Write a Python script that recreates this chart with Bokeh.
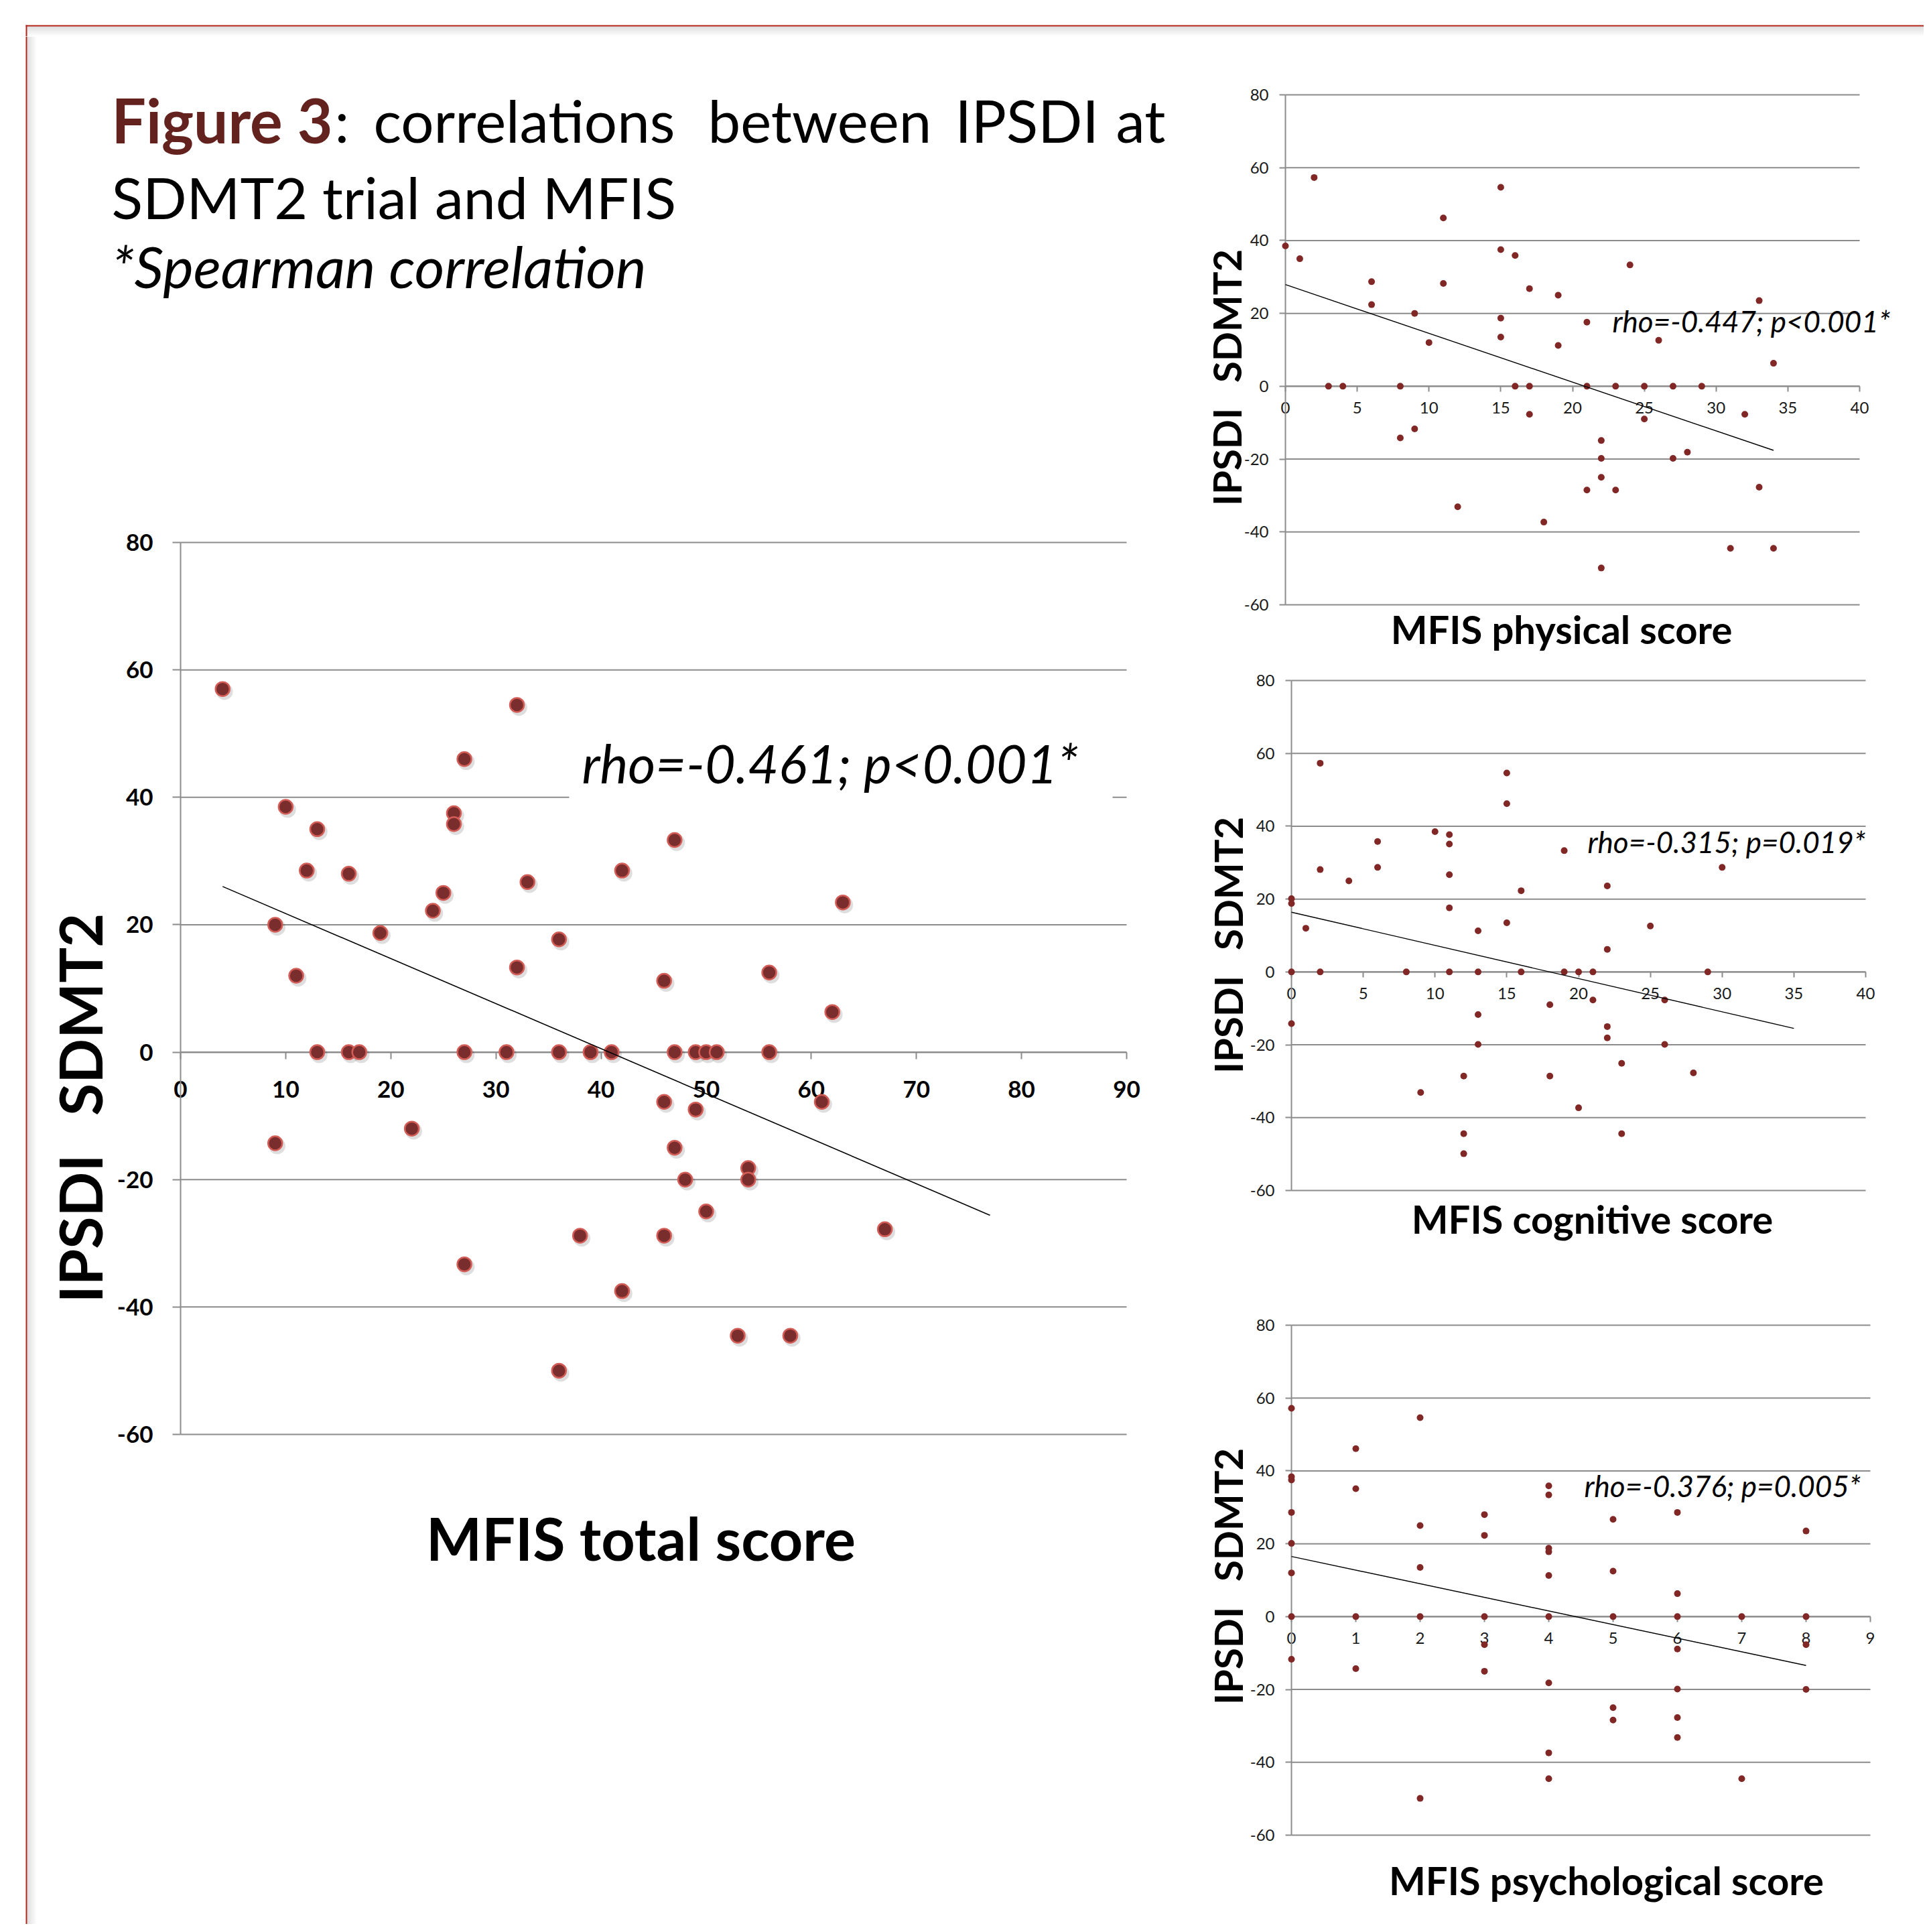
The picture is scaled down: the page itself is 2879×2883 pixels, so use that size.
import math
from bokeh.plotting import figure
from bokeh.models import Range1d, FixedTicker, Label, Spacer, LinearAxis
from bokeh.layouts import row, column
from bokeh.embed import file_html
from bokeh.resources import INLINE
from bokeh.core.properties import value
from bokeh.transform import dodge

# ---------------- data ----------------
y_ticks = [-60, -40, -20, 0, 20, 40, 60, 80]

# MFIS total score vs IPSDI SDMT2
total_x = [4, 32, 27, 10, 13, 26, 26, 47, 12, 16, 42, 33, 25, 24, 63, 9, 19, 36, 11, 32, 46, 56, 62,
           13, 16, 17, 27, 31, 36, 39, 41, 47, 49, 50, 51, 56,
           9, 22, 46, 49, 61, 47, 54, 54, 48, 50, 38, 46, 67, 27, 42, 53, 58, 36]
total_y = [57, 54.5, 46, 38.5, 35, 37.5, 35.8, 33.3, 28.5, 28, 28.5, 26.7, 25, 22.2, 23.5, 20, 18.7, 17.7, 12, 13.3, 11.2, 12.5, 6.3,
           0, 0, 0, 0, 0, 0, 0, 0, 0, 0, 0, 0, 0,
           -14.3, -12, -7.8, -9, -7.8, -15, -18.2, -20, -20, -25, -28.8, -28.8, -27.8, -33.3, -37.5, -44.5, -44.5, -50]
total_trend_x = [4, 77]
total_trend_y = [26.0, -25.6]
total_x_ticks = [0, 10, 20, 30, 40, 50, 60, 70, 80, 90]

# MFIS physical score
phys_x = [0, 1, 2, 3, 4, 6, 6, 8, 8, 9, 9, 10, 11, 11, 12, 15, 15, 15, 15, 16, 16, 17, 17, 17, 18,
          19, 19, 21, 21, 21, 22, 22, 22, 22, 23, 23, 24, 25, 25, 26, 27, 27, 28, 29, 31, 32, 33, 33, 34, 34]
phys_y = [38.5, 35, 57.3, 0, 0, 28.7, 22.4, 0, -14.2, 20, -11.7, 12, 46.2, 28.2, -33.1, 54.6, 37.5, 18.7, 13.5, 35.9, 0, 26.8, 0, -7.7, -37.3,
          25, 11.2, 17.6, 0, -28.5, -14.9, -19.8, -25, -49.9, 0, -28.5, 33.3, 0, -9, 12.6, 0, -19.8, -18.1, 0, -44.5, -7.7, 23.5, -27.7, 6.3, -44.5]
phys_trend_x = [0, 34]
phys_trend_y = [27.9, -17.6]
phys_x_ticks = [0, 5, 10, 15, 20, 25, 30, 35, 40]

# MFIS cognitive score
cog_x = [0, 0, 0, 0, 1, 2, 2, 2, 4, 6, 6, 8, 9, 10, 11, 11, 11, 11, 11, 12, 12, 12, 13, 13, 13, 13,
         15, 15, 15, 16, 16, 18, 18, 19, 19, 20, 20, 21, 21, 22, 22, 22, 22, 23, 23, 25, 26, 26, 28, 29, 30]
cog_y = [20.1, 18.8, 0, -14.2, 12, 57.3, 28.1, 0, 25, 35.8, 28.7, 0, -33.1, 38.5, 37.7, 35.1, 26.7, 17.6, 0, -28.6, -44.4, -49.9, 11.3, 0, -11.7, -19.9,
         54.6, 46.2, 13.5, 22.3, 0, -9, -28.6, 33.3, 0, 0, -37.3, 0, -7.7, 23.6, 6.2, -15, -18.1, -25.1, -44.4, 12.6, -7.7, -19.9, -27.7, 0, 28.7]
cog_trend_x = [0, 35]
cog_trend_y = [16.4, -15.5]
cog_x_ticks = [0, 5, 10, 15, 20, 25, 30, 35, 40]

# MFIS psychological score
psy_x = [0, 0, 0, 0, 0, 0, 0, 0, 1, 1, 1, 1, 2, 2, 2, 2, 2, 3, 3, 3, 3, 3,
         4, 4, 4, 4, 4, 4, 4, 4, 4, 5, 5, 5, 5, 5, 6, 6, 6, 6, 6, 6, 6, 7, 7, 8, 8, 8, 8]
psy_y = [57.2, 38.4, 37.5, 28.6, 20.1, 12, 0, -11.7, 46.1, 35.1, 0, -14.3, 54.6, 25, 13.5, 0, -49.9, 28, 22.3, 0, -7.7, -15,
         35.9, 33.4, 18.8, 17.8, 11.3, 0, -18.2, -37.4, -44.5, 26.7, 12.5, 0, -25, -28.4, 28.6, 6.3, 0, -8.9, -19.9, -27.7, -33.2, 0, -44.5, 23.5, 0, -7.7, -20]
psy_trend_x = [0, 8]
psy_trend_y = [16.5, -13.4]
psy_x_ticks = [0, 1, 2, 3, 4, 5, 6, 7, 8, 9]

Y_TITLE = "IPSDI\u00a0\u00a0\u2006SDMT2"

# ---------------- style ----------------
FONT = "Lato"
GRID = "#8c8c8c"
RED_LINE = "#B0241C"
TITLE_RED = "#64221F"
DOT_MAIN = "#7A2D2D"
DOT_RING = "#D45C56"
DOT_SMALL = "#812826"
BASE_SHIFT = 0.39  # move anchor up so that the alphabetic baseline lands where wanted


def bl(py, size):
    return py - BASE_SHIFT * size


class Mapper:
    """Pixel layout of one chart: figure box and where the axis ends land (window px)."""

    def __init__(self, box, x_ticks, x_px, y_px):
        self.box = box  # left, top, right, bottom
        x0, x1 = x_ticks[0], x_ticks[-1]
        y0, y1 = y_ticks[0], y_ticks[-1]
        self.sx = (x_px[1] - x_px[0]) / (x1 - x0)
        self.sy = (y_px[1] - y_px[0]) / (y1 - y0)  # negative
        self.x0, self.px0 = x0, x_px[0]
        self.y0, self.py0 = y0, y_px[0]

    def dx(self, px):
        return self.x0 + (px - self.px0) / self.sx

    def dy(self, py):
        return self.y0 + (py - self.py0) / self.sy


def chart(m, xs, ys, tx, ty, x_ticks, tick_px, tick_bold, ytick_out, xtick_out, ystand, xstand, main=False):
    l, t, r, b = m.box
    p = figure(width=r - l, height=b - t, x_range=Range1d(m.dx(l), m.dx(r)),
               y_range=Range1d(m.dy(b), m.dy(t)), output_backend="svg", toolbar_location=None,
               min_border=0, x_axis_location=None, y_axis_location=None)
    p.outline_line_color = None
    p.background_fill_color = "white"
    p.border_fill_color = "white"
    p.grid.visible = False
    # horizontal gridlines between x = first and last tick
    p.segment(x0=x_ticks[0], x1=x_ticks[-1], y0=y_ticks, y1=y_ticks, line_color=GRID, line_width=2)
    xa = LinearAxis(fixed_location=0, bounds=(x_ticks[0], x_ticks[-1]), ticker=FixedTicker(ticks=x_ticks),
                    major_label_overrides={v: str(v) for v in x_ticks})
    ya = LinearAxis(fixed_location=0, bounds=(y_ticks[0], y_ticks[-1]), ticker=FixedTicker(ticks=y_ticks),
                    major_label_overrides={v: str(v) for v in y_ticks})
    for ax, out, st in ((xa, xtick_out, xstand), (ya, ytick_out, ystand)):
        ax.level = "underlay"
        ax.axis_line_color = GRID
        ax.axis_line_width = 2
        ax.major_tick_line_color = GRID
        ax.major_tick_line_width = 2
        ax.minor_tick_line_color = None
        ax.major_tick_in = 0
        ax.major_tick_out = out
        ax.major_label_standoff = st
        ax.major_label_text_font = FONT
        ax.major_label_text_font_size = f"{tick_px}px"
        ax.major_label_text_font_style = "bold" if tick_bold else "normal"
        ax.major_label_text_color = "black" if tick_bold else "#1a1a1a"
    p.add_layout(xa, "below")
    p.add_layout(ya, "left")
    if main:
        p.scatter(x=dodge("x", 0.18), y=dodge("y", -0.4), source=dict(x=xs, y=ys), size=25,
                  fill_color="black", fill_alpha=0.13, line_color=None)
        p.scatter("x", "y", source=dict(x=xs, y=ys), size=21, fill_color=DOT_MAIN,
                  line_color=DOT_RING, line_width=2.5)
        p.line(tx, ty, line_color="black", line_width=1.6)
    else:
        p.scatter(xs, ys, size=10, fill_color=DOT_SMALL, line_color=None)
        p.line(tx, ty, line_color="black", line_width=1.4)
    return p


def add_texts(p, m, rho, rho_pos, rho_px, xt, xt_pos, yt_pos, title_px):
    p.add_layout(Label(x=m.dx(rho_pos[0]), y=m.dy(bl(rho_pos[1], rho_px)), text=rho, text_font=FONT,
                       text_font_style="italic", text_font_size=f"{rho_px}px", text_align="left",
                       text_baseline="alphabetic", text_color="black"))
    p.add_layout(Label(x=m.dx(xt_pos[0]), y=m.dy(bl(xt_pos[1], title_px)), text=xt, text_font=FONT,
                       text_font_style="bold", text_font_size=f"{title_px}px", text_align="center",
                       text_baseline="alphabetic", text_color="black"))
    p.add_layout(Label(x=m.dx(yt_pos[0]), y=m.dy(yt_pos[1]), text=Y_TITLE, text_font=FONT,
                       text_font_style="bold", text_font_size=f"{title_px}px", text_align="center",
                       text_baseline="middle", angle=math.pi / 2, text_color="black"))


def blank(w, h, xr, yr):
    p = figure(width=w, height=h, x_range=Range1d(*xr), y_range=Range1d(*yr), output_backend="svg",
               toolbar_location=None, min_border=0, x_axis_location=None, y_axis_location=None)
    p.grid.visible = False
    p.outline_line_color = None
    p.background_fill_color = "white"
    p.border_fill_color = "white"
    return p


# ---------------- frame bands ----------------
TB_W, TB_H = 2834, 18
top_band = blank(TB_W, TB_H, (0, TB_W), (TB_H, 0))
for i in range(7):
    top_band.quad(left=3, right=TB_W, top=3 + 2 * i, bottom=5 + 2 * i, fill_color="black",
                  fill_alpha=0.12 * (1 - i / 7), line_color=None)
top_band.quad(left=1, right=TB_W, top=1, bottom=3, fill_color=RED_LINE, line_color=None)
top_band.quad(left=1, right=3, top=1, bottom=TB_H, fill_color=RED_LINE, line_color=None)

LB_W, LB_H = 18, 2817
left_band = blank(LB_W, LB_H, (0, LB_W), (LB_H, 0))
for i in range(7):
    left_band.quad(left=3 + 2 * i, right=5 + 2 * i, top=0, bottom=LB_H, fill_color="black",
                   fill_alpha=0.12 * (1 - i / 7), line_color=None)
left_band.quad(left=1, right=3, top=0, bottom=LB_H, fill_color=RED_LINE, line_color=None)

# ---------------- title ----------------
title = blank(1703, 646, (55, 1758), (700, 54))
title.text(x=[166], y=[bl(213, 91)], text=["Figure 3"], text_font=value(FONT), text_font_style="bold",
           text_font_size="91px", text_color=TITLE_RED, text_baseline="alphabetic", text_align="left")
title.text(x=[499, 557, 1056, 1425, 1665], y=[bl(213, 87)] * 5,
           text=[":", "correlations", "between", "IPSDI", "at"], text_font=value(FONT),
           text_font_size="87px", text_color="black", text_baseline="alphabetic", text_align="left")
title.text(x=[166], y=[bl(327, 86)], text=["SDMT2 trial and MFIS"], text_font=value(FONT),
           text_font_size="86px", text_color="black", text_baseline="alphabetic", text_align="left")
title.text(x=[166], y=[bl(430, 86)], text=["*Spearman correlation"], text_font=value(FONT),
           text_font_style="italic", text_font_size="86px", text_color="black",
           text_baseline="alphabetic", text_align="left")

# ---------------- charts ----------------
m_main = Mapper((55, 700, 1758, 2871), total_x_ticks, (269, 1681), (2140, 809))
main = chart(m_main, total_x, total_y, total_trend_x, total_trend_y, total_x_ticks, 35, True, 12, 10, 29, 33,
             main=True)
# white box behind the correlation note (interrupts the 40 gridline)
main.quad(left=m_main.dx(849), right=m_main.dx(1660), top=m_main.dy(1150), bottom=m_main.dy(1200),
          fill_color="white", line_color=None)
add_texts(main, m_main, "rho=-0.461; p<0.001*", (868, 1169), 79, "MFIS total score", (956, 2329),
          (118, 1653), 88)

m_phys = Mapper((1758, 54, 2871, 980), phys_x_ticks, (1918, 2775), (902, 141))
phys = chart(m_phys, phys_x, phys_y, phys_trend_x, phys_trend_y, phys_x_ticks, 24, False, 9, 8, 16, 16)
add_texts(phys, m_phys, "rho=-0.447; p<0.001*", (2406, 496), 44, "MFIS physical score", (2330, 961),
          (1830, 563), 58)

m_cog = Mapper((1758, 980, 2871, 1920), cog_x_ticks, (1927, 2784), (1776, 1015))
cog = chart(m_cog, cog_x, cog_y, cog_trend_x, cog_trend_y, cog_x_ticks, 24, False, 9, 8, 16, 16)
add_texts(cog, m_cog, "rho=-0.315; p=0.019*", (2369, 1273), 44, "MFIS cognitive score", (2376, 1841),
          (1832, 1410), 58)

m_psy = Mapper((1758, 1920, 2871, 2871), psy_x_ticks, (1927, 2791), (2738, 1977))
psy = chart(m_psy, psy_x, psy_y, psy_trend_x, psy_trend_y, psy_x_ticks, 24, False, 9, 8, 16, 16)
add_texts(psy, m_psy, "rho=-0.376; p=0.005*", (2364, 2234), 44, "MFIS psychological score", (2397, 2828),
          (1832, 2352), 58)

body = row(column(title, main), column(phys, cog, psy))
layout = column(
    Spacer(width=2871, height=36),
    row(Spacer(width=37, height=TB_H), top_band),
    row(Spacer(width=37, height=LB_H), left_band, body),
)

open("out.html", "w").write(file_html(layout, INLINE))
